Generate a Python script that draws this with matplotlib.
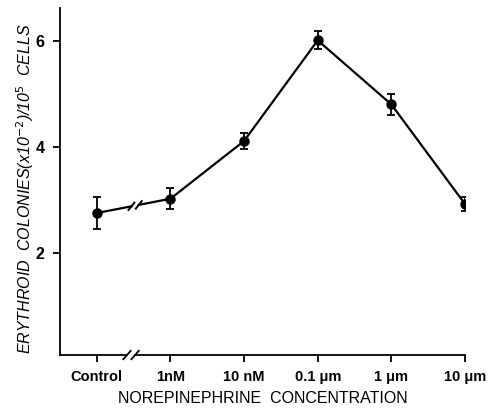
import numpy as np
import matplotlib.pyplot as plt
from matplotlib.transforms import blended_transform_factory

labels = ["Control", "1nM", "10 nM", "0.1 μm", "1 μm", "10 μm"]
colonies = [2.75, 3.02, 4.11, 6.01, 4.80, 2.92]
errors = [0.30, 0.20, 0.15, 0.17, 0.20, 0.13]

plt.rcParams['font.family'] = ['Liberation Sans', 'DejaVu Sans']

fig = plt.figure(figsize=(4.97, 4.13), dpi=100)
ax = fig.add_axes([0.1207, 0.1404, 0.8149, 0.8402])
x = np.arange(len(labels))

# broken connection between control and first dose
gap_a, gap_b = 0.47, 0.57
ya = np.interp(gap_a, x[:2], colonies[:2])
yb = np.interp(gap_b, x[:2], colonies[:2])
ax.plot([x[0], gap_a], [colonies[0], ya], color='black', lw=1.6)
ax.plot([gap_b, x[1]], [yb, colonies[1]], color='black', lw=1.6)
for gx, gy in [(gap_a, ya), (gap_b, yb)]:
    ax.plot([gx - 0.04, gx + 0.04], [gy - 0.07, gy + 0.07], color='black', lw=1.4)

ax.plot(x[1:], colonies[1:], color='black', lw=1.6)
ax.errorbar(x, colonies, yerr=errors, fmt='o', color='black', ms=6.5,
            capsize=3, elinewidth=1.3, capthick=1.3)

ax.set_xlim(-0.5, 5)
ax.set_ylim(0.07, 6.62)
ax.set_yticks([2, 4, 6])
ax.set_yticklabels(['2', '4', '6'], fontweight='bold', fontsize=11.5)
ax.set_xticks(x)
ax.set_xticklabels(labels, fontweight='bold', fontsize=10.5)
ax.tick_params(direction='out', length=5, width=1.3, pad=6)

for s in ['top', 'right', 'bottom']:
    ax.spines[s].set_visible(False)
ax.spines['left'].set_linewidth(1.3)

# bottom axis with a break
tr = blended_transform_factory(ax.transData, ax.transAxes)
ax.plot([-0.5, 0.41], [0, 0], color='black', lw=1.3, transform=tr, clip_on=False)
ax.plot([0.52, 5], [0, 0], color='black', lw=1.3, transform=tr, clip_on=False)
for bx in [0.41, 0.52]:
    ax.plot([bx - 0.05, bx + 0.05], [-0.012, 0.012], color='black', lw=1.3,
            transform=tr, clip_on=False)

ax.set_xlabel("NOREPINEPHRINE  CONCENTRATION", fontsize=11.5, labelpad=5)
ax.set_ylabel("ERYTHROID  COLONIES(x10$^{-2}$)/10$^5$  CELLS", fontsize=11.5,
              style='italic')
ax.yaxis.set_label_coords(-0.058, 0.48)

fig.savefig("out.png", dpi=100)
